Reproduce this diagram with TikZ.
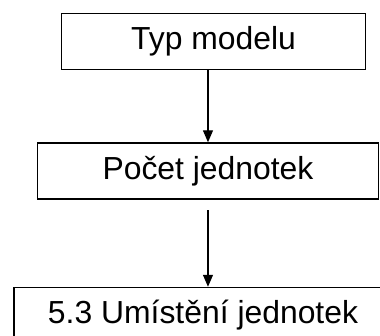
\documentclass[tikz,border=0pt]{standalone}
\usepackage{fontspec}
\setmainfont{Liberation Sans}
\usepackage{tikz}
\usetikzlibrary{arrows.meta,positioning,calc}

\begin{document}
\begin{tikzpicture}[
  x=1cm,y=1cm,>={Triangle[length=9pt,width=7.5pt]},
  flow/.style={->,line width=0.9pt},
  stage/.style={draw,line width=1.1pt,minimum height=1.48cm,
    inner sep=0pt,fill=white,align=center},
  every node/.style={font=\fontsize{24}{28}\selectfont}
]
  \useasboundingbox (0,0) rectangle (10.054,-8.890);
  \node[stage,minimum width=8.05cm] (model) at (5.649,-1.098)
    {Typ modelu};
  \node[stage,minimum width=9.03cm] (count) at (5.503,-4.524)
    {Počet jednotek};
  \node[stage,minimum width=10.0cm] (placement) at (5.371,-8.347)
    {5.3 Umístění jednotek};

  \draw[flow] (model.south -| count.north) -- (count.north);
  \draw[flow,shorten <=8pt] (count.south) -- (count.south |- placement.north);
\end{tikzpicture}
\end{document}
